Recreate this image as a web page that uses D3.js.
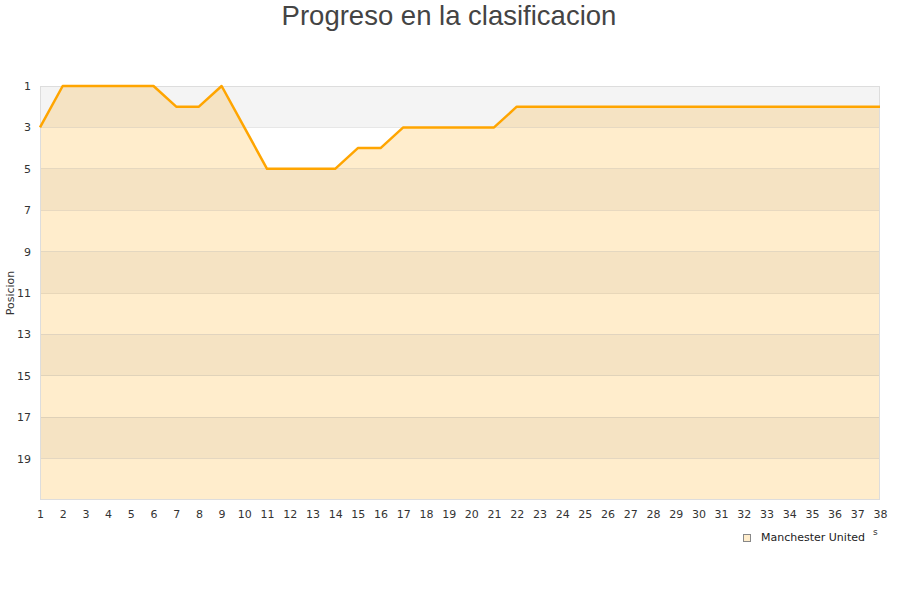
<!DOCTYPE html>
<html><head><meta charset="utf-8">
<script src="https://cdn.jsdelivr.net/npm/d3@7/dist/d3.min.js"></script>
<style>body{margin:0;background:#fff;} svg{display:block;}</style>
</head><body>
<svg id="c" width="900" height="600"></svg>
<script>
const title = "Progreso en la clasificacion";
const yTitle = "Posicion";
const seriesName = "Manchester United";
const matchdays = d3.range(1, 39);
const positions = [3,1,1,1,1,1,2,2,1,3,5,5,5,5,4,4,3,3,3,3,3,2,2,2,2,2,2,2,2,2,2,2,2,2,2,2,2,2];
const yTicks = [1,3,5,7,9,11,13,15,17,19];

const svg = d3.select("#c");
const m = {l:40, r:880, t:86, b:500};
const x = d3.scaleLinear().domain([1,38]).range([m.l, m.r]);
const y = d3.scaleLinear().domain([1,21]).range([m.t, m.b]);
const data = matchdays.map((d,i)=>({d, p: positions[i]}));

svg.append("text").attr("x",449).attr("y",25).attr("text-anchor","middle")
  .attr("font-family","Liberation Sans, Arial, sans-serif").attr("font-size",27.5).attr("fill","#444").text(title);

const bands = d3.range(1,21,2);
svg.append("g").selectAll("rect").data(bands).join("rect")
  .attr("x",m.l).attr("width",m.r-m.l)
  .attr("y",d=>y(d)).attr("height",d=>y(d+2)-y(d))
  .attr("fill",(d,i)=> i%2===0 ? "#f4f4f4" : "#ffffff");

const area = d3.area().x(d=>x(d.d)).y0(y(21)).y1(d=>y(d.p));
svg.append("clipPath").attr("id","ac").append("path").attr("d", area(data));
svg.append("g").attr("clip-path","url(#ac)").selectAll("rect").data(bands).join("rect")
  .attr("x",m.l).attr("width",m.r-m.l)
  .attr("y",d=>y(d)).attr("height",d=>y(d+2)-y(d))
  .attr("fill",(d,i)=> i%2===0 ? "#f5e3c3" : "#ffedcc");

svg.append("g").selectAll("line").data(yTicks.slice(1)).join("line")
  .attr("x1",m.l).attr("x2",m.r).attr("y1",d=>y(d)).attr("y2",d=>y(d))
  .attr("stroke","rgba(0,0,0,0.09)").attr("stroke-width",1).attr("shape-rendering","crispEdges");

svg.append("rect").attr("x",m.l+0.5).attr("y",m.t+0.5).attr("width",m.r-m.l-1).attr("height",m.b-m.t-1)
  .attr("fill","none").attr("stroke","#dddddd").attr("stroke-width",1);

svg.append("path").datum(data).attr("d", d3.line().x(d=>x(d.d)).y(d=>y(d.p)))
  .attr("fill","none").attr("stroke","#ffa500").attr("stroke-width",2.5).attr("stroke-linejoin","round");

const yAxis = d3.axisLeft(y).tickValues(yTicks).tickSize(0).tickPadding(9);
const gy = svg.append("g").attr("transform",`translate(${m.l},0)`).call(yAxis);
gy.select(".domain").remove();
gy.selectAll("text").attr("font-family","DejaVu Sans, sans-serif").attr("font-size",11).attr("fill","#333");

const xAxis = d3.axisBottom(x).tickValues(matchdays).tickFormat(d3.format("d")).tickSize(0).tickPadding(10);
const gx = svg.append("g").attr("transform",`translate(0,${m.b})`).call(xAxis);
gx.select(".domain").remove();
gx.selectAll("text").attr("font-family","DejaVu Sans, sans-serif").attr("font-size",11).attr("fill","#333");

svg.append("text").attr("transform",`translate(14,293) rotate(-90)`).attr("text-anchor","middle")
  .attr("font-family","DejaVu Sans, sans-serif").attr("font-size",11).attr("fill","#333").text(yTitle);

svg.append("rect").attr("x",743.5).attr("y",534.5).attr("width",7).attr("height",7)
  .attr("fill","#ffedcc").attr("stroke","#888").attr("stroke-width",1);
svg.append("text").attr("x",761).attr("y",541).attr("font-family","DejaVu Sans, sans-serif")
  .attr("font-size",11).attr("fill","#222").text(seriesName);
svg.append("text").attr("x",873).attr("y",535).attr("font-family","DejaVu Sans, sans-serif")
  .attr("font-size",9).attr("fill","#333").text("s");
</script>
</body></html>
